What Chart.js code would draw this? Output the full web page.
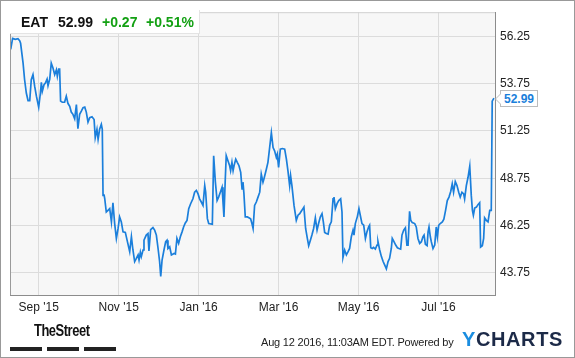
<!DOCTYPE html>
<html><head><meta charset="utf-8">
<script src="https://cdn.jsdelivr.net/npm/chart.js@4.4.1/dist/chart.umd.min.js"></script>
<style>
html,body{margin:0;padding:0;background:#fff;}
#wrap{position:relative;width:575px;height:358px;overflow:hidden;font-family:"Liberation Sans",Arial,sans-serif;}
#c{position:absolute;left:0;top:0;}
#frame{position:absolute;left:0;top:0;width:575px;height:358px;box-sizing:border-box;border:1px solid #999;pointer-events:none;}
#hdr{position:absolute;left:10px;top:10px;width:190px;height:24px;background:#fff;border-right:1px solid #e4e4e4;border-bottom:1px solid #e4e4e4;box-sizing:border-box;}
#hdr span{position:absolute;top:0;line-height:25px;font-size:14px;font-weight:bold;white-space:nowrap;}
.blk{color:#111;}
.grn{color:#13a013;}
#last{position:absolute;height:17px;line-height:17px;padding:0 3px;background:#fff;border:1px solid #bcbcbc;color:#1b7fdb;font-weight:bold;font-size:12px;box-sizing:border-box;white-space:nowrap;}
#last:before{content:"";position:absolute;left:-6px;top:2px;border-style:solid;border-width:6px 6px 6px 0;border-color:transparent #bcbcbc transparent transparent;}
#last:after{content:"";position:absolute;left:-5px;top:2px;border-style:solid;border-width:6px 6px 6px 0;border-color:transparent #fff transparent transparent;}
#street{position:absolute;left:34px;top:321px;font-family:"Liberation Sans Narrow","Liberation Sans",Arial,sans-serif;font-weight:bold;font-size:17px;letter-spacing:-0.6px;color:#111;transform:scaleX(0.76);transform-origin:0 0;}
.bar{position:absolute;top:347px;height:4px;background:#222;}
#stamp{position:absolute;left:261px;top:336px;font-size:11px;color:#222;white-space:nowrap;letter-spacing:-0.2px;}
#yc{position:absolute;left:462px;top:328px;font-size:20px;font-weight:bold;white-space:nowrap;letter-spacing:0.6px;color:#1c2a48;}
#yc b{color:#1a8de0;}
</style>
</head><body>
<div id="wrap">
<canvas id="c" width="575" height="358"></canvas>
<div id="hdr"><span class="blk" style="left:11px">EAT</span><span class="blk" style="left:48px">52.99</span><span class="grn" style="left:92px">+0.27</span><span class="grn" style="left:136px">+0.51%</span></div>
<div id="last">52.99</div>
<div id="street">TheStreet</div>
<div class="bar" style="left:10px;width:32px"></div>
<div class="bar" style="left:47px;width:32px"></div>
<div class="bar" style="left:84px;width:32px"></div>
<div id="stamp">Aug 12 2016, 11:03AM EDT. Powered by</div>
<div id="yc"><b>Y</b>CHARTS</div>
<div id="frame"></div>
</div>
<script>
const tradingDay = [0.0,1.0,2.4,3.8,4.7,5.2,6.5,7.3,8.2,9.1,10.0,10.8,11.7,12.6,13.5,14.7,15.6,16.1,16.6,17.5,18.2,19.1,19.6,20.5,21.3,22.2,23.1,24.0,24.5,25.2,25.7,26.2,27.1,28.3,29.2,30.1,31.0,31.8,32.7,33.6,34.5,35.3,36.2,37.1,38.0,38.9,39.7,40.6,41.5,42.7,43.8,44.4,45.3,45.9,46.7,47.6,48.1,48.5,49.0,49.4,50.2,51.1,52.0,52.9,53.7,54.6,55.5,56.4,57.2,58.1,59.0,60.2,61.3,62.5,63.4,64.2,65.1,66.0,66.9,67.4,68.1,68.6,69.5,70.0,71.2,72.1,72.6,73.5,74.7,75.6,76.5,77.4,78.2,78.8,79.5,80.5,81.4,82.1,82.6,83.5,84.4,85.8,86.5,87.3,88.2,89.1,90.0,90.8,91.7,92.6,93.5,94.5,95.7,96.6,97.5,98.4,99.2,100.1,101.0,101.9,102.4,103.3,104.0,105.9,106.6,107.5,108.4,109.2,110.1,111.0,111.5,112.0,112.7,113.2,114.1,115.0,115.5,116.2,116.8,117.3,118.2,119.0,119.9,120.8,121.5,122.0,122.5,123.2,124.3,125.1,126.0,126.7,127.3,128.1,129.0,129.9,130.8,131.6,132.5,133.0,134.3,135.1,136.0,136.9,137.8,138.6,139.5,140.0,140.7,141.6,142.7,143.9,144.8,145.6,146.5,147.0,147.7,148.8,150.0,150.9,151.8,152.6,153.5,154.0,154.9,155.8,156.5,157.4,158.2,159.1,160.0,160.9,161.7,162.6,163.5,164.2,164.9,165.8,166.7,167.5,168.4,169.3,169.8,170.5,171.4,172.3,173.3,174.0,174.5,175.4,176.3,177.2,178.0,178.9,179.8,180.3,181.0,182.1,182.9,183.6,184.5,185.4,186.3,187.1,188.0,188.5,189.1,189.9,190.6,191.5,192.4,192.9,193.8,194.7,195.6,196.4,197.3,198.2,199.0,199.9,200.4,201.3,202.2,203.1,203.9,204.8,205.5,206.4,207.3,208.1,208.7,209.5,210.1,210.9,212.2,213.0,213.9,214.8,215.7,216.5,217.1,217.8,218.7,219.2,219.7,220.4,220.9,221.8,222.7,223.5,224.1,224.8,225.6,226.7,227.5,228.4,229.3,230.2,231.1,231.9,232.6,233.5,234.4,235.3,236.1,237.0,237.9,238.4,239.3,240.2,241.1,241.9,242.5,243.0,243.7,244.6,245.4,246.3,246.8,247.7,248.4,248.9,249.8,250.7,251.6,252.4,252.9,253.8];
const price = [55.57,56.15,56.10,56.13,56.03,55.89,54.84,53.96,53.26,52.86,52.86,53.96,54.23,53.61,53.09,52.51,53.26,53.82,53.35,53.70,53.79,54.00,53.65,54.00,54.84,54.58,54.23,54.49,54.14,54.52,54.52,52.83,52.77,52.77,53.09,52.70,52.56,52.25,52.13,51.90,52.65,51.37,52.13,52.30,52.48,52.51,52.25,51.72,51.95,52.00,51.86,50.90,51.34,50.81,51.34,51.60,51.34,47.84,47.89,47.66,46.96,47.05,47.14,46.44,47.45,46.35,45.56,46.09,46.70,46.44,45.91,45.88,45.39,44.86,45.65,44.95,44.34,44.51,44.69,44.42,44.83,44.60,44.95,45.47,45.74,45.82,44.90,46.03,46.14,46.00,45.74,45.03,44.34,43.55,44.42,44.95,45.39,45.47,45.03,45.12,44.69,44.77,44.74,45.56,45.30,45.65,45.91,46.17,46.38,46.52,47.14,47.40,47.66,48.01,48.10,47.92,47.66,47.49,47.31,48.36,48.01,46.61,46.35,46.31,49.94,48.54,47.57,47.75,48.01,48.27,47.49,46.70,48.71,49.94,49.67,49.41,49.15,49.59,49.15,49.41,49.76,49.59,49.41,49.06,48.19,48.54,47.92,46.70,46.70,46.66,46.60,46.35,46.09,47.31,47.49,47.75,48.01,48.97,48.54,48.71,49.24,49.59,50.37,51.16,50.37,50.20,49.85,50.02,49.32,50.29,50.32,50.29,49.76,49.15,48.36,48.89,48.36,47.31,46.52,46.79,46.87,47.00,47.14,47.22,46.09,45.56,45.18,45.47,45.74,46.09,46.65,46.00,46.35,46.70,46.87,46.44,45.88,45.82,45.79,46.26,46.44,47.66,47.75,47.14,47.40,47.57,47.66,46.96,44.55,44.95,44.69,44.86,45.03,45.65,46.00,45.74,46.35,46.73,47.14,46.79,46.35,46.26,45.56,45.91,46.17,46.26,45.07,45.03,45.09,45.00,45.21,45.39,44.95,44.60,44.34,44.16,43.95,44.34,44.51,45.03,45.56,45.39,45.21,45.07,45.03,45.00,45.74,46.00,46.12,45.21,45.21,47.00,46.52,46.40,46.35,46.17,45.56,45.30,45.39,45.65,45.74,45.25,45.18,45.91,46.17,45.65,45.39,45.03,45.21,46.17,45.65,46.26,46.35,46.44,46.58,47.05,47.57,47.75,48.05,48.45,48.01,48.57,48.36,48.01,47.75,48.01,47.92,47.66,48.36,48.80,49.38,47.84,47.05,46.79,47.17,47.22,47.35,47.45,45.11,45.18,45.56,46.65,46.52,46.44,47.05,47.05,52.83,52.99];
const monthTickDays = [14.7, 56.7, 98.7, 140.7, 182.7, 224.7];
const monthTickLabels = ["Sep '15", "Nov '15", "Jan '16", "Mar '16", "May '16", "Jul '16"];
const priceTicks = [43.75, 46.25, 48.75, 51.25, 53.75, 56.25];
const lastPrice = 52.99;

const FONT = "'Liberation Sans', Arial, sans-serif";
const points = tradingDay.map((d, i) => ({ x: d, y: price[i] }));

const framePlugin = {
  id: 'frame',
  beforeDraw(chart) {
    const { ctx, chartArea: a } = chart;
    ctx.save();
    ctx.fillStyle = '#f7f7f7';
    ctx.fillRect(a.left, a.top, a.right - a.left, a.bottom - a.top);
    ctx.restore();
  },
  afterDraw(chart) {
    const { ctx, chartArea: a } = chart;
    ctx.save();
    ctx.lineWidth = 1;
    ctx.strokeStyle = '#d2d2d2';
    ctx.beginPath();
    ctx.moveTo(a.left, a.top + 0.5); ctx.lineTo(a.right, a.top + 0.5);
    ctx.stroke();
    ctx.strokeStyle = '#9a9a9a';
    ctx.beginPath();
    ctx.moveTo(a.left + 0.5, a.top); ctx.lineTo(a.left + 0.5, a.bottom);
    ctx.stroke();
    ctx.restore();
    const yPix = chart.scales.y.getPixelForValue(lastPrice);
    const el = document.getElementById('last');
    el.style.left = (a.right + 5) + 'px';
    el.style.top = Math.round(yPix - 8.5) + 'px';
  }
};

new Chart(document.getElementById('c'), {
  type: 'line',
  data: {
    datasets: [{
      data: points,
      borderColor: '#1b7fdb',
      borderWidth: 1.7,
      pointRadius: 0,
      tension: 0,
      fill: false
    }]
  },
  options: {
    responsive: false,
    animation: false,
    layout: { padding: { left: 10, top: 10, right: 0, bottom: 0 } },
    plugins: { legend: { display: false }, tooltip: { enabled: false } },
    scales: {
      x: {
        type: 'linear',
        min: -0.37,
        max: 254.36,
        grid: { color: '#dcdcdc', lineWidth: 1, drawTicks: false },
        border: { display: true, color: '#8c8c8c', width: 1 },
        ticks: {
          padding: 5, color: '#222', maxRotation: 0, autoSkip: false,
          font: { family: FONT, size: 12 },
          callback: (v, i) => monthTickLabels[i]
        },
        afterBuildTicks: (ax) => { ax.ticks = monthTickDays.map(v => ({ value: v })); },
        afterFit: (ax) => { ax.height = 63; }
      },
      y: {
        position: 'right',
        min: 42.568,
        max: 57.537,
        grid: { color: '#dcdcdc', lineWidth: 1, drawTicks: false },
        border: { display: true, color: '#8c8c8c', width: 1 },
        ticks: {
          padding: 5, color: '#222',
          font: { family: FONT, size: 12 },
          callback: (v) => Number(v).toFixed(2)
        },
        afterBuildTicks: (ax) => { ax.ticks = priceTicks.map(v => ({ value: v })); },
        afterFit: (ax) => { ax.width = 80; }
      }
    }
  },
  plugins: [framePlugin]
});
</script>
</body></html>
